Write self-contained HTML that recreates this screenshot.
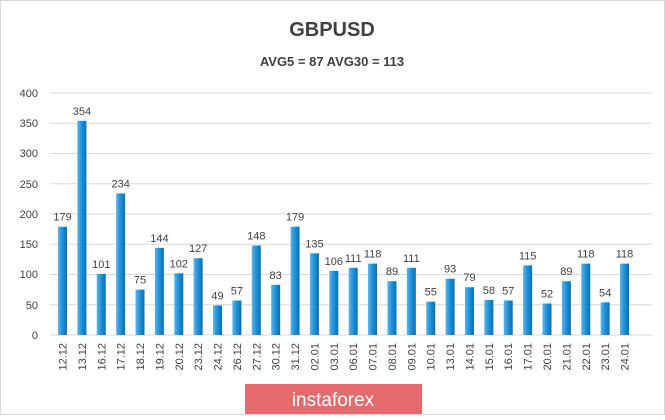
<!DOCTYPE html>
<html><head><style>
body{margin:0;background:#fff;}
svg text{font-family:"Liberation Sans",sans-serif;fill:#404040;}
.v{font-size:11px;text-anchor:middle;}
.a{font-size:11px;text-anchor:end;}
</style></head><body>
<svg width="665" height="415" xmlns="http://www.w3.org/2000/svg">
<defs>
<linearGradient id="g" x1="0" x2="1"><stop offset="0" stop-color="#5ab4ea"/><stop offset="0.5" stop-color="#1e90d8"/><stop offset="1" stop-color="#0a6fb0"/></linearGradient>
</defs>
<rect x="0.5" y="0.5" width="664" height="414" fill="#fff" stroke="#d8d8d8"/>
<text x="332" y="36" text-anchor="middle" font-size="20" font-weight="bold">GBPUSD</text>
<text x="332" y="66" text-anchor="middle" font-size="13" font-weight="bold">AVG5 = 87 AVG30 = 113</text>
<g stroke="#d9d9d9">
<line x1="50" x2="652" y1="335" y2="335"/><line x1="50" x2="652" y1="304.75" y2="304.75"/><line x1="50" x2="652" y1="274.5" y2="274.5"/><line x1="50" x2="652" y1="244.25" y2="244.25"/><line x1="50" x2="652" y1="214" y2="214"/><line x1="50" x2="652" y1="183.75" y2="183.75"/><line x1="50" x2="652" y1="153.5" y2="153.5"/><line x1="50" x2="652" y1="123.25" y2="123.25"/><line x1="50" x2="652" y1="93" y2="93"/>
</g>
<g class="ax">
<text class="a" x="38" y="339">0</text><text class="a" x="38" y="309">50</text><text class="a" x="38" y="278">100</text><text class="a" x="38" y="248">150</text><text class="a" x="38" y="218">200</text><text class="a" x="38" y="188">250</text><text class="a" x="38" y="157">300</text><text class="a" x="38" y="127">350</text><text class="a" x="38" y="97">400</text>
</g>
<g transform="translate(58,0)"><rect y="226.7" width="9" height="108.3" fill="url(#g)"/><text class="v" x="4.5" y="220.7">179</text><text class="a" transform="translate(8.5,343) rotate(-90)">12.12</text></g>
<g transform="translate(77.38,0)"><rect y="120.8" width="9" height="214.2" fill="url(#g)"/><text class="v" x="4.5" y="114.8">354</text><text class="a" transform="translate(8.5,343) rotate(-90)">13.12</text></g>
<g transform="translate(96.76,0)"><rect y="273.9" width="9" height="61.1" fill="url(#g)"/><text class="v" x="4.5" y="267.9">101</text><text class="a" transform="translate(8.5,343) rotate(-90)">16.12</text></g>
<g transform="translate(116.14,0)"><rect y="193.4" width="9" height="141.6" fill="url(#g)"/><text class="v" x="4.5" y="187.4">234</text><text class="a" transform="translate(8.5,343) rotate(-90)">17.12</text></g>
<g transform="translate(135.52,0)"><rect y="289.6" width="9" height="45.4" fill="url(#g)"/><text class="v" x="4.5" y="283.6">75</text><text class="a" transform="translate(8.5,343) rotate(-90)">18.12</text></g>
<g transform="translate(154.9,0)"><rect y="247.9" width="9" height="87.1" fill="url(#g)"/><text class="v" x="4.5" y="241.9">144</text><text class="a" transform="translate(8.5,343) rotate(-90)">19.12</text></g>
<g transform="translate(174.28,0)"><rect y="273.3" width="9" height="61.7" fill="url(#g)"/><text class="v" x="4.5" y="267.3">102</text><text class="a" transform="translate(8.5,343) rotate(-90)">20.12</text></g>
<g transform="translate(193.66,0)"><rect y="258.2" width="9" height="76.8" fill="url(#g)"/><text class="v" x="4.5" y="252.2">127</text><text class="a" transform="translate(8.5,343) rotate(-90)">23.12</text></g>
<g transform="translate(213.04,0)"><rect y="305.4" width="9" height="29.6" fill="url(#g)"/><text class="v" x="4.5" y="299.4">49</text><text class="a" transform="translate(8.5,343) rotate(-90)">24.12</text></g>
<g transform="translate(232.42,0)"><rect y="300.5" width="9" height="34.5" fill="url(#g)"/><text class="v" x="4.5" y="294.5">57</text><text class="a" transform="translate(8.5,343) rotate(-90)">26.12</text></g>
<g transform="translate(251.8,0)"><rect y="245.5" width="9" height="89.5" fill="url(#g)"/><text class="v" x="4.5" y="239.5">148</text><text class="a" transform="translate(8.5,343) rotate(-90)">27.12</text></g>
<g transform="translate(271.18,0)"><rect y="284.8" width="9" height="50.2" fill="url(#g)"/><text class="v" x="4.5" y="278.8">83</text><text class="a" transform="translate(8.5,343) rotate(-90)">30.12</text></g>
<g transform="translate(290.56,0)"><rect y="226.7" width="9" height="108.3" fill="url(#g)"/><text class="v" x="4.5" y="220.7">179</text><text class="a" transform="translate(8.5,343) rotate(-90)">31.12</text></g>
<g transform="translate(309.94,0)"><rect y="253.3" width="9" height="81.7" fill="url(#g)"/><text class="v" x="4.5" y="247.3">135</text><text class="a" transform="translate(8.5,343) rotate(-90)">02.01</text></g>
<g transform="translate(329.32,0)"><rect y="270.9" width="9" height="64.1" fill="url(#g)"/><text class="v" x="4.5" y="264.9">106</text><text class="a" transform="translate(8.5,343) rotate(-90)">03.01</text></g>
<g transform="translate(348.7,0)"><rect y="267.8" width="9" height="67.2" fill="url(#g)"/><text class="v" x="4.5" y="261.8">111</text><text class="a" transform="translate(8.5,343) rotate(-90)">06.01</text></g>
<g transform="translate(368.08,0)"><rect y="263.6" width="9" height="71.4" fill="url(#g)"/><text class="v" x="4.5" y="257.6">118</text><text class="a" transform="translate(8.5,343) rotate(-90)">07.01</text></g>
<g transform="translate(387.46,0)"><rect y="281.2" width="9" height="53.8" fill="url(#g)"/><text class="v" x="4.5" y="275.2">89</text><text class="a" transform="translate(8.5,343) rotate(-90)">08.01</text></g>
<g transform="translate(406.84,0)"><rect y="267.8" width="9" height="67.2" fill="url(#g)"/><text class="v" x="4.5" y="261.8">111</text><text class="a" transform="translate(8.5,343) rotate(-90)">09.01</text></g>
<g transform="translate(426.22,0)"><rect y="301.7" width="9" height="33.3" fill="url(#g)"/><text class="v" x="4.5" y="295.7">55</text><text class="a" transform="translate(8.5,343) rotate(-90)">10.01</text></g>
<g transform="translate(445.6,0)"><rect y="278.7" width="9" height="56.3" fill="url(#g)"/><text class="v" x="4.5" y="272.7">93</text><text class="a" transform="translate(8.5,343) rotate(-90)">13.01</text></g>
<g transform="translate(464.98,0)"><rect y="287.2" width="9" height="47.8" fill="url(#g)"/><text class="v" x="4.5" y="281.2">79</text><text class="a" transform="translate(8.5,343) rotate(-90)">14.01</text></g>
<g transform="translate(484.36,0)"><rect y="299.9" width="9" height="35.1" fill="url(#g)"/><text class="v" x="4.5" y="293.9">58</text><text class="a" transform="translate(8.5,343) rotate(-90)">15.01</text></g>
<g transform="translate(503.74,0)"><rect y="300.5" width="9" height="34.5" fill="url(#g)"/><text class="v" x="4.5" y="294.5">57</text><text class="a" transform="translate(8.5,343) rotate(-90)">16.01</text></g>
<g transform="translate(523.12,0)"><rect y="265.4" width="9" height="69.6" fill="url(#g)"/><text class="v" x="4.5" y="259.4">115</text><text class="a" transform="translate(8.5,343) rotate(-90)">17.01</text></g>
<g transform="translate(542.5,0)"><rect y="303.5" width="9" height="31.5" fill="url(#g)"/><text class="v" x="4.5" y="297.5">52</text><text class="a" transform="translate(8.5,343) rotate(-90)">20.01</text></g>
<g transform="translate(561.88,0)"><rect y="281.2" width="9" height="53.8" fill="url(#g)"/><text class="v" x="4.5" y="275.2">89</text><text class="a" transform="translate(8.5,343) rotate(-90)">21.01</text></g>
<g transform="translate(581.26,0)"><rect y="263.6" width="9" height="71.4" fill="url(#g)"/><text class="v" x="4.5" y="257.6">118</text><text class="a" transform="translate(8.5,343) rotate(-90)">22.01</text></g>
<g transform="translate(600.64,0)"><rect y="302.3" width="9" height="32.7" fill="url(#g)"/><text class="v" x="4.5" y="296.3">54</text><text class="a" transform="translate(8.5,343) rotate(-90)">23.01</text></g>
<g transform="translate(620.02,0)"><rect y="263.6" width="9" height="71.4" fill="url(#g)"/><text class="v" x="4.5" y="257.6">118</text><text class="a" transform="translate(8.5,343) rotate(-90)">24.01</text></g>
<rect x="245" y="384" width="177" height="30" fill="#e56a6e"/>
<text x="333" y="406" text-anchor="middle" font-size="19" style="fill:#fff">instaforex</text>
</svg>
</body></html>
